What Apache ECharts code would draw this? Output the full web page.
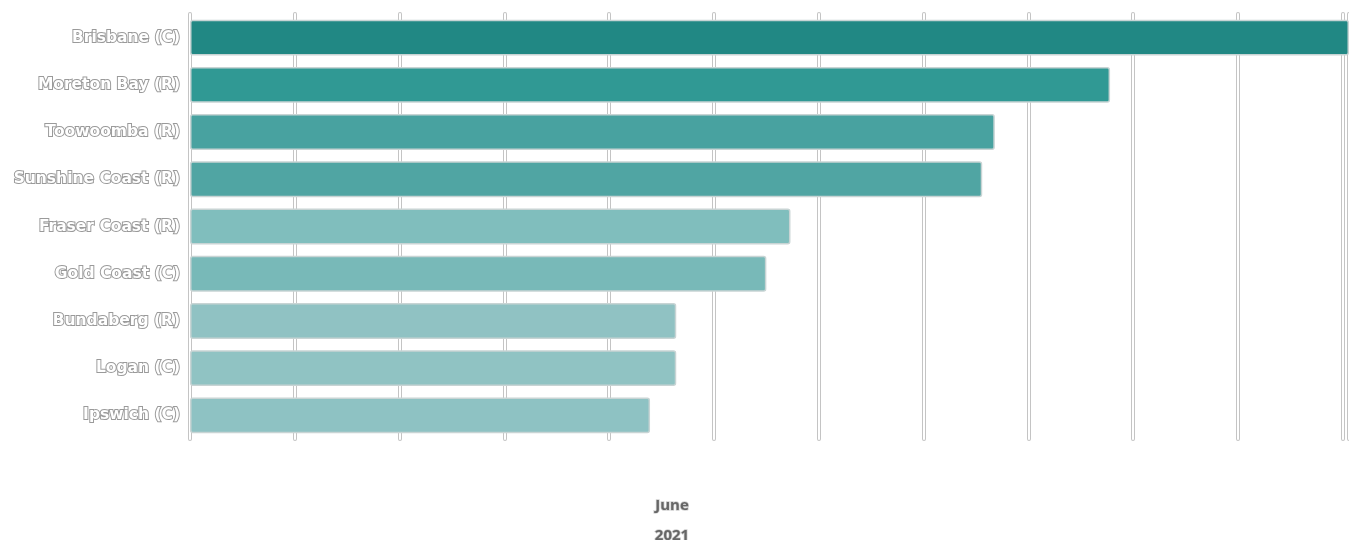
<!DOCTYPE html>
<html>
<head>
<meta charset="utf-8">
<script src="https://cdn.jsdelivr.net/npm/echarts@6/dist/echarts.min.js"></script>
<style>html,body{margin:0;padding:0;background:#fff}#c{width:1349px;height:540px}</style>
</head>
<body>
<div id="c"></div>
<script>
const categories = ['Brisbane (C)','Moreton Bay (R)','Toowoomba (R)','Sunshine Coast (R)','Fraser Coast (R)','Gold Coast (C)','Bundaberg (R)','Logan (C)','Ipswich (C)'];
const values = [11.06, 8.78, 7.68, 7.56, 5.73, 5.50, 4.64, 4.64, 4.39];
const barColors = ['#218884','#309994','#48a2a0','#50a5a3','#80bebd','#78b9b8','#90c2c3','#90c3c3','#8ec2c3'];
const titleLines = ['June','2021'];

const chart = echarts.init(document.getElementById('c'));
const axisCommon = {
  type: 'value', min: 0, max: 11.06, interval: 1,
  axisLabel: {show: false}, axisTick: {show: false}, axisLine: {show: false}
};
chart.setOption({
  animation: false,
  title: {
    text: titleLines.join('\n'),
    left: 667, top: 486, textAlign: 'center',
    textStyle: {fontFamily: 'Open Sans', fontSize: 15, fontWeight: 'bold', color: '#666', lineHeight: 30,
      textBorderColor: '#d0d0d0', textBorderWidth: 1.5}
  },
  grid: {left: 190, right: 0, top: 14, height: 425, containLabel: false},
  xAxis: [
    Object.assign({}, axisCommon, {splitLine: {show: true, lineStyle: {color: '#c4c4c4', width: 4, cap: 'round'}}}),
    Object.assign({}, axisCommon, {splitLine: {show: true, lineStyle: {color: '#ffffff', width: 2, cap: 'round'}}})
  ],
  yAxis: {
    type: 'category', data: categories, inverse: true,
    axisLine: {show: false}, axisTick: {show: false},
    axisLabel: {
      margin: 10, fontFamily: 'DejaVu Sans', fontSize: 15.5, fontWeight: 'bold',
      color: '#ffffff', textBorderColor: '#9a9a9a', textBorderWidth: 2
    }
  },
  series: [{
    type: 'bar', xAxisIndex: 0,
    data: values.map((v, i) => ({value: v, itemStyle: {color: barColors[i]}})),
    barCategoryGap: '24%',
    itemStyle: {borderColor: '#c8d4d4', borderWidth: 1.5, borderRadius: 2},
    z: 5
  }]
});
</script>
</body>
</html>
